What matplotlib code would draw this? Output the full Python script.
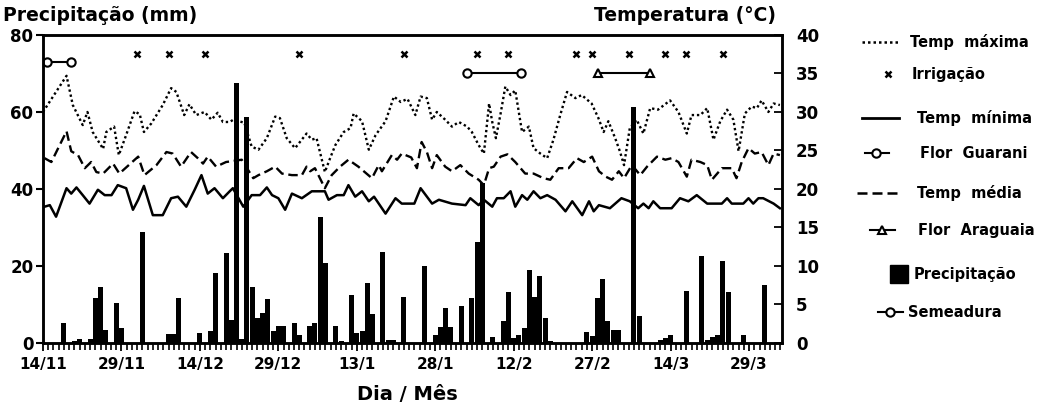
import matplotlib
matplotlib.use('Agg')
from matplotlib import pyplot as plt
from matplotlib.ticker import MultipleLocator

plt.rcParams['font.family'] = ['DejaVu Sans']
plt.rcParams['font.weight'] = 'bold'

# x = days since 14/11
tick_days = [0, 15, 30, 45, 60, 75, 90, 105, 120, 135]
tick_labels = ['14/11', '29/11', '14/12', '29/12', '13/1', '28/1', '12/2', '27/2', '14/3', '29/3']

# precipitation (mm), one bar per day
rain_days = [4, 6, 7, 9, 10, 11, 12, 14, 15, 19, 24, 25, 26, 30, 32, 33, 35, 36, 37, 38,
             39, 40, 41, 42, 43, 44, 45, 46, 48, 49, 51, 52, 53, 54, 56, 57, 59, 60, 61, 62,
             63, 65, 66, 67, 69, 73, 75, 76, 77, 78, 80, 82, 83, 84, 86, 88, 89, 90, 91, 92,
             93, 94, 95, 96, 97, 104, 105, 106, 107, 108, 109, 110, 113, 114, 118, 119, 120,
             123, 126, 127, 128, 129, 130, 131, 134, 138]
rain_mm = [5.1, 0.5, 1.0, 1.0, 11.6, 14.6, 3.4, 10.3, 4.0, 28.7, 2.3, 2.4, 11.6, 2.5, 3.0, 18.2,
           23.4, 5.9, 67.5, 1.0, 58.6, 14.6, 6.5, 7.8, 11.4, 3.0, 4.3, 4.3, 5.3, 2.1, 4.3, 5.1,
           32.6, 20.7, 4.3, 0.5, 12.4, 2.5, 3.2, 15.7, 7.4, 23.6, 0.8, 0.8, 12.0, 20.0, 2.0, 4.2,
           9.0, 4.2, 9.6, 11.6, 26.3, 41.5, 1.5, 5.6, 13.2, 1.3, 2.2, 3.9, 19.0, 11.9, 17.4, 6.5,
           0.5, 2.8, 1.9, 11.6, 16.5, 5.6, 3.5, 3.5, 61.3, 7.0, 0.8, 1.2, 2.2, 13.4, 22.7, 0.8,
           1.5, 2.1, 21.3, 13.3, 2.0, 15.0]

# temperatures (°C)
tmax_days = [0, 4.5, 5.7, 7.6, 8.5, 9.5, 11.5, 12.1, 13.6, 14.5, 15.9, 17.5, 18.5, 19.3, 20.7,
             22.9, 24.5, 25.5, 27, 28, 29.3, 30.9, 32.2, 33.4, 34.4, 35.7, 36.4, 38.5, 39.9, 41.2,
             42.8, 44.4, 45.3, 46.6, 48.2, 50.4, 51.4, 52.3, 53.9, 54.9, 55.9, 57.5, 58.8, 59.4,
             61, 62.3, 63.6, 65.5, 67.1, 68.4, 69.7, 71.2, 72.2, 73.4, 74.4, 75.3, 76.9, 78.2,
             79.5, 81.1, 82, 83.3, 84.3, 85.3, 85.9, 86.6, 87.5, 88.4, 89.4, 90.3, 91.6, 92.9,
             93.8, 95.1, 96.4, 97.6, 98.9, 100.2, 101.8, 103, 104.9, 106.2, 107.2, 108.1, 109.4,
             110.3, 111.1, 112.2, 113.5, 114.8, 116.1, 117.6, 119.9, 121.5, 123.1, 124, 125.7,
             127, 128.2, 129.5, 130.8, 132, 133, 134.2, 135.5, 136.5, 137.4, 138.7, 139.7, 140.9]
tmax = [30, 34.7, 30.9, 28.3, 30, 27.4, 25.2, 27.4, 28.1, 24.4, 27, 30.1, 29.7, 27.4, 28.5,
        30.9, 33.1, 32.6, 29.6, 31, 29.6, 30, 29, 29.9, 28.7, 28.7, 29, 28.6, 25.5, 25.1,
        26.6, 29.4, 29.2, 26.6, 25.3, 27.2, 26.4, 26.6, 22.2, 24, 25.7, 27.4, 27.9, 29.8,
        28.8, 25.1, 27, 28.8, 32, 31.3, 31.7, 29.6, 32, 31.8, 29, 30, 29, 28.1,
        28.7, 28.1, 27.4, 25.7, 24.6, 31.1, 28.7, 26.6, 29.8, 33.3, 32.2, 32.8, 27.4, 28.1,
        25.3, 24.6, 24, 26.4, 29.6, 32.6, 31.8, 32.2, 31.1, 29.2, 27.4, 28.8, 26.6,
        24.9, 23.1, 27.9, 29, 27.2, 30.5, 30.3, 31.5, 30, 27.2, 29.6, 29.6,
        30.5, 26.4, 28.8, 30.3, 29, 24.9, 29.8, 30.7, 30.5, 31.5, 30, 31.1, 30.9]

tmed_days = [0.3, 1.6, 4.5, 5.4, 6.7, 8, 9.2, 10.2, 11.5, 13.4, 14.6, 18.2, 19.4, 21.7, 23.6,
             24.8, 26.4, 28.3, 29.6, 30.6, 31.5, 33.1, 35, 38, 40.2, 41.2, 42.8, 44.4, 45.7,
             47.6, 49.5, 50.4, 51.1, 52, 53.9, 55.2, 56.8, 58.4, 60.3, 62.9, 64.2, 64.8, 66.7,
             67.7, 68.6, 70.4, 71.5, 72.4, 73.4, 74.4, 75.3, 76.9, 78.2, 79.8, 81.4, 83.3, 84.3,
             85.3, 86.2, 87.5, 88.8, 90.3, 92.2, 93.8, 95.7, 97, 98.6, 100.5, 102.1, 103.4, 105,
             106.3, 107.6, 108.8, 110.1, 111.1, 112.6, 114.2, 115.5, 117.4, 119, 120.2, 121.5,
             123.1, 124, 125.7, 127, 127.9, 129.8, 131.7, 132.6, 133.6, 134.9, 136.1, 137.4,
             138.7, 139.7, 140.9]
tmed = [24, 23.5, 27.5, 24.9, 24.4, 22.7, 23.5, 22.2, 22, 23.3, 22, 24.2, 21.8, 23.1, 24.8,
        24.6, 22.9, 24.8, 24, 23.3, 24.2, 22.9, 23.5, 23.8, 21.4, 21.8, 22.3, 22.9, 22,
        21.8, 21.8, 22.9, 22.3, 22.7, 20.1, 21.8, 22.9, 23.8, 22.9, 21.4, 23.1, 22.3, 24.4,
        23.8, 24.6, 24.1, 22.7, 26.1, 24.8, 22.7, 24.4, 22.9, 22.3, 23.1, 22, 21.2, 20.5,
        22.7, 22.9, 24.2, 24.5, 23.5, 22, 22, 21.4, 21.2, 22.7, 22.7, 24, 23.5, 24.2,
        22.3, 21.6, 21.2, 22.3, 21.4, 23.1, 21.8, 22.9, 24.2, 23.8, 24, 23.5,
        21.6, 23.8, 23.5, 23.1, 21.2, 22.7, 22.7, 21.4, 23.5, 25.3, 24.6, 24.8,
        23.1, 24.6, 24.4]

tmin_days = [0.3, 1.3, 2.5, 4.5, 5.4, 6.4, 7.6, 8.9, 10.5, 11.8, 13.1, 14.3, 15.9, 17.2, 18.2,
             19.3, 21, 22.9, 24.5, 25.8, 27.4, 29, 30.3, 31.5, 32.8, 34.4, 35.7, 36.3, 38.3,
             39.9, 41.5, 42.8, 43.8, 45, 46.3, 47.6, 49.5, 51.4, 53.9, 54.6, 56.2, 57.5, 58.4,
             59.7, 61, 62.3, 63.3, 64.2, 65.5, 67.4, 68.6, 71, 72.2, 74.4, 75.7, 78.2, 80.8,
             81.7, 83.3, 84.3, 85.9, 86.8, 88.1, 89.4, 90.3, 91.6, 92.6, 93.8, 95.1, 96.4, 98,
             99.9, 101.2, 103.1, 104.4, 105.3, 106.3, 108.4, 110.6, 112.2, 113.8, 114.8, 115.8,
             116.7, 118, 120.2, 121.8, 123.4, 125, 127, 129.8, 130.8, 131.7, 133.9, 134.9, 135.8,
             136.8, 137.7, 139.7, 140.9]
tmin = [17.7, 17.9, 16.4, 20.1, 19.4, 20.2, 19.2, 18.1, 19.9, 19.2, 19.2, 20.5, 20.1, 17.3, 18.6,
        20.4, 16.6, 16.6, 18.8, 19, 17.7, 19.9, 21.8, 19.4, 20.1, 18.8, 19.7, 20.1, 17.7,
        19.2, 19.2, 20.2, 19.2, 18.8, 17.3, 19.4, 18.8, 19.7, 19.7, 18.6, 19.2, 19.2, 20.5,
        19, 19.7, 18.4, 19, 18.1, 16.8, 18.8, 18.1, 18.1, 20.1, 18.1, 18.6, 18.1, 17.9,
        18.8, 17.9, 18.6, 17.7, 18.8, 18.8, 19.7, 17.7, 19.2, 18.6, 19.7, 18.8, 19.2, 18.6,
        17.1, 18.4, 16.6, 18.4, 17.1, 17.9, 17.5, 18.8, 18.4, 17.5, 18.1, 17.5,
        18.4, 17.5, 17.5, 18.8, 18.4, 19.2, 18.1, 18.1, 18.8, 18.1, 18.1, 18.8, 18.1,
        18.8, 18.8, 18.1, 17.5]

irrig_days = [18, 24, 31, 49, 69, 83, 89, 102, 105, 112, 119, 123, 130]
semeadura_days = [0.8, 5.3]
guarani_days = [81.1, 91.4]
araguaia_days = [106.1, 116.1]

fig = plt.figure(figsize=(10.46, 4.11), dpi=100)
ax = fig.add_axes([0.0411, 0.1655, 0.7065, 0.7494])
ax2 = ax.twinx()

ax.bar(rain_days, rain_mm, width=0.95, color='black', align='center')
ax.plot(irrig_days, [75] * len(irrig_days), 'x', color='black', ms=5, mew=1.8)
ax.plot(semeadura_days, [73, 73], '-o', color='black', lw=1.5, ms=6, mfc='white', mew=1.5)
ax.plot(guarani_days, [70, 70], '-o', color='black', lw=1.5, ms=6, mfc='white', mew=1.5)
ax.plot(araguaia_days, [70, 70], '-^', color='black', lw=1.5, ms=6, mfc='white', mew=1.5)

ax2.plot(tmax_days, tmax, color='black', ls=(0, (1, 1.2)), lw=1.7)
ax2.plot(tmed_days, tmed, color='black', ls=(0, (4, 2)), lw=1.7)
ax2.plot(tmin_days, tmin, color='black', ls='-', lw=1.8)

ax.set_xlim(0, 141.3)
ax.set_ylim(0, 80)
ax2.set_ylim(0, 40)
ax.set_xticks(tick_days)
ax.set_xticklabels(tick_labels, fontsize=11, fontweight='bold')
ax.xaxis.set_minor_locator(MultipleLocator(1))
ax.set_yticks([0, 20, 40, 60, 80])
ax.tick_params(axis='y', direction='out', length=5, width=1.5, labelsize=12, pad=2)
ax.tick_params(axis='x', which='major', direction='out', length=6, width=1.3, labelsize=11, pad=4)
ax.tick_params(axis='x', which='minor', direction='out', length=5, width=1.2)
ax2.set_yticks(range(0, 41, 5))
ax2.tick_params(axis='y', direction='in', length=6, width=1.3, labelsize=12, pad=10)
for a in (ax, ax2):
    for s in a.spines.values():
        s.set_linewidth(1.8)
for lab in ax.get_yticklabels() + ax2.get_yticklabels():
    lab.set_fontweight('bold')

fig.text(0.003, 0.963, 'Precipitação (mm)', fontsize=13.5, fontweight='bold', ha='left', va='center')
fig.text(0.742, 0.963, 'Temperatura (°C)', fontsize=13.5, fontweight='bold', ha='right', va='center')
fig.text(0.389, 0.04, 'Dia / Mês', fontsize=14, fontweight='bold', ha='center', va='center')

# legend drawn by hand at the right
lg = fig.add_axes([0, 0, 1, 1])
lg.set_xlim(0, 1046)
lg.set_ylim(411, 0)
lg.axis('off')
lg.plot([862, 899], [42, 42], color='black', ls=(0, (1, 1.2)), lw=1.8)
lg.plot([888], [74], 'x', color='black', ms=5, mew=1.8)
lg.plot([862, 899], [118, 118], color='black', lw=2)
lg.plot([865, 889], [153, 153], '-', color='black', lw=1.5)
lg.plot([876], [153], 'o', color='black', mfc='white', ms=6, mew=1.5)
lg.plot([857, 900], [193, 193], color='black', ls=(0, (4, 2)), lw=1.8)
lg.plot([870, 895], [230, 230], '-', color='black', lw=1.5)
lg.plot([882], [230], '^', color='black', mfc='white', ms=6, mew=1.5)
lg.plot([899], [274], 's', color='black', ms=13)
lg.plot([878, 903], [312, 312], '-', color='black', lw=1.5)
lg.plot([890], [312], 'o', color='black', mfc='white', ms=6, mew=1.5)
leg_items = [(910, 42, 'Temp  máxima'), (912, 74, 'Irrigação'), (917, 118, 'Temp  mínima'),
             (920, 153, 'Flor  Guarani'), (917, 193, 'Temp  média'), (918, 230, 'Flor  Araguaia'),
             (914, 274, 'Precipitação'), (908, 312, 'Semeadura')]
for x, y, t in leg_items:
    lg.text(x, y, t, fontsize=10.5, fontweight='bold', ha='left', va='center')

fig.savefig('out.png', dpi=100)
